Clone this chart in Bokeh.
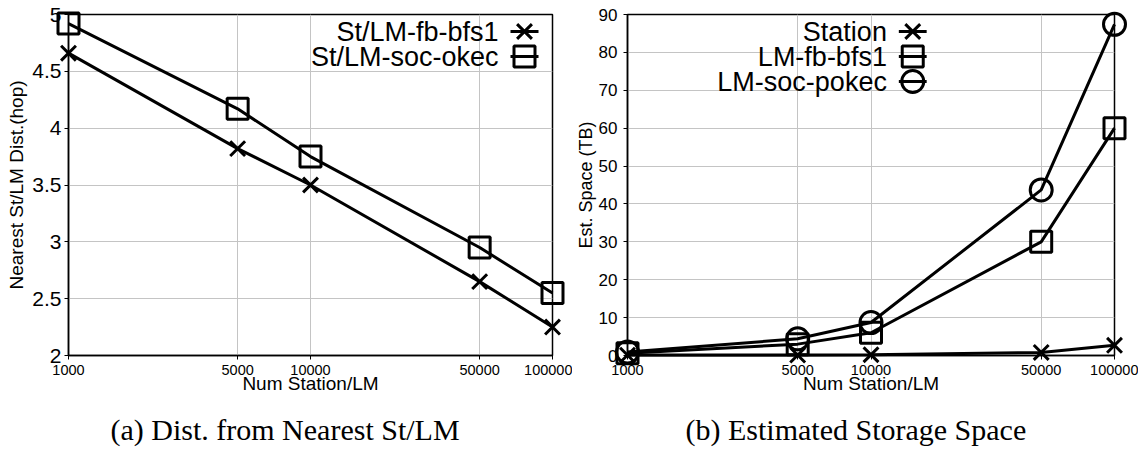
from bokeh.plotting import figure
from bokeh.layouts import row
from bokeh.models import FixedTicker, CustomJSTickFormatter, Label, Title
from bokeh.embed import file_html
from bokeh.resources import INLINE

# ---------------- data ----------------
num_lm = [1000, 5000, 10000, 50000, 100000]
dist_fb = [4.66, 3.82, 3.50, 2.65, 2.25]
dist_pokec = [4.92, 4.17, 3.75, 2.95, 2.55]
space_station = [0.1, 0.1, 0.2, 0.8, 2.7]
space_fb = [0.6, 3.0, 6.0, 30.0, 60.0]
space_pokec = [0.9, 4.4, 8.7, 43.7, 87.4]

x_ticks = [1000, 5000, 10000, 50000, 100000]
dist_ticks = [2, 2.5, 3, 3.5, 4, 4.5, 5]
space_ticks = [0, 10, 20, 30, 40, 50, 60, 70, 80, 90]

left_names = ["St/LM-fb-bfs1", "St/LM-soc-okec"]
right_names = ["Station", "LM-fb-bfs1", "LM-soc-pokec"]
captions = ["(a) Dist. from Nearest St/LM", "(b) Estimated Storage Space"]
x_label = "Num Station/LM"
y_labels = ["Nearest St/LM Dist.(hop)", "Est. Space (TB)"]

SANS = "Liberation Sans"
SERIF = "Liberation Serif"
LW = 3
MS = 21

H = 462
TOP = 14
FH = 341


def make_fig(width, ymin, ymax, border_l, border_r):
    p = figure(width=width, height=H, x_axis_type="log",
               x_range=(x_ticks[0], x_ticks[-1]), y_range=(ymin, ymax),
               output_backend="svg", toolbar_location=None,
               min_border_left=border_l, min_border_right=border_r,
               min_border_top=TOP, min_border_bottom=H - TOP - FH)
    p.outline_line_color = "black"
    p.outline_line_width = 1.5
    p.outline_line_alpha = 1.0
    p.grid.grid_line_color = "#c4c4c4"
    p.grid.grid_line_width = 1
    p.xaxis.ticker = FixedTicker(ticks=x_ticks)
    p.xaxis.formatter = CustomJSTickFormatter(code="return String(Math.round(tick));")
    p.yaxis.formatter = CustomJSTickFormatter(code="return String(tick);")
    for ax in (p.xaxis, p.yaxis):
        ax.axis_line_color = "black"
        ax.axis_line_width = 1.5
        ax.major_tick_in = 0
        ax.major_tick_out = 4
        ax.major_tick_line_color = "black"
        ax.major_tick_line_width = 1
        ax.minor_tick_line_color = None
        ax.major_label_text_font = SANS
        ax.major_label_text_color = "black"
        ax.axis_label_text_font = SANS
        ax.axis_label_text_font_style = "normal"
        ax.axis_label_text_color = "black"
    p.xaxis.major_label_text_font_size = "14.5px"
    p.xaxis.major_label_standoff = 5
    p.xaxis.axis_label = x_label
    p.xaxis.axis_label_text_font_size = "19px"
    p.xaxis.axis_label_standoff = -5
    return p


def frame_mapper(frame_w, ymin, ymax):
    # frame pixel offsets (from frame left / frame top) -> data coordinates
    def xd(px):
        return 10 ** (3 + 2.0 * px / frame_w)

    def yd(py):
        return ymax - (ymax - ymin) * py / FH
    return xd, yd


def add_series(p, ys, marker, size):
    p.line(num_lm, ys, line_color="black", line_width=LW, level="overlay")
    p.scatter(num_lm, ys, marker=marker, size=size, line_color="black",
              line_width=LW, fill_color=None, level="overlay")


def add_legend(p, names, markers, sizes, xd, yd, text_right, rows_top):
    for i, (name, mk, sz) in enumerate(zip(names, markers, sizes)):
        yy = yd(rows_top + 25 * i)
        p.add_layout(Label(x=xd(text_right), y=yy, text=name, text_align="right",
                           text_baseline="middle", text_font=SANS,
                           text_font_size="27px", text_color="black"))
        p.line([xd(text_right + 12), xd(text_right + 40)], [yy, yy],
               line_color="black", line_width=LW)
        p.scatter([xd(text_right + 26)], [yy], marker=mk, size=sz,
                  line_color="black", line_width=LW, fill_color=None)


def add_caption(p, text, left_offset):
    p.add_layout(Title(text=text, align="left", offset=left_offset,
                       text_font=SERIF, text_font_size="30px",
                       text_font_style="normal", text_color="black",
                       standoff=29), "below")


# ---------------- left plot ----------------
FW1 = 484
p1 = make_fig(572, 2, 5, 68, 20)
xd1, yd1 = frame_mapper(FW1, 2, 5)
p1.yaxis.ticker = FixedTicker(ticks=dist_ticks)
p1.yaxis.major_label_text_font_size = "21px"
p1.yaxis.major_label_standoff = 3
p1.yaxis.axis_label = y_labels[0]
p1.yaxis.axis_label_text_font_size = "19px"
p1.yaxis.axis_label_standoff = 2
add_series(p1, dist_fb, "x", MS)
add_series(p1, dist_pokec, "square", MS)
add_legend(p1, left_names, ["x", "square"], [MS, MS], xd1, yd1, 430, 17)
add_caption(p1, captions[0], 42)

# ---------------- right plot ----------------
FW2 = 490
p2 = make_fig(566, 0, 90, 52, 24)
xd2, yd2 = frame_mapper(FW2, 0, 90)
p2.yaxis.ticker = FixedTicker(ticks=space_ticks)
p2.yaxis.major_label_text_font_size = "17px"
p2.yaxis.major_label_standoff = 6
p2.yaxis.axis_label = y_labels[1]
p2.yaxis.axis_label_text_font_size = "18px"
p2.yaxis.axis_label_standoff = 0
add_series(p2, space_station, "x", MS)
add_series(p2, space_fb, "square", MS)
add_series(p2, space_pokec, "circle", MS + 1)
add_legend(p2, right_names, ["x", "square", "circle"], [MS, MS, MS + 1],
           xd2, yd2, 261, 17)
add_caption(p2, captions[1], 58)

layout = row(p1, p2)
open("out.html", "w").write(file_html(layout, INLINE))
